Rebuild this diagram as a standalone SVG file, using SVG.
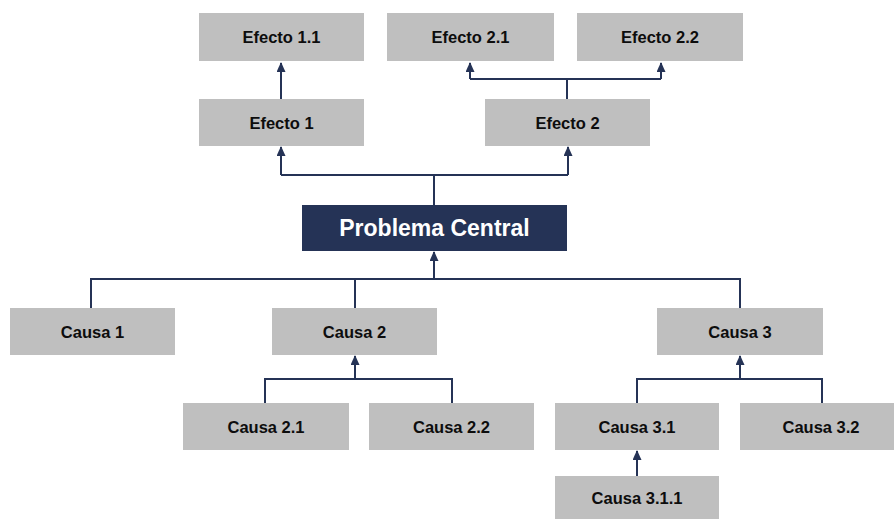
<svg xmlns="http://www.w3.org/2000/svg" width="894" height="519" viewBox="0 0 894 519">
<defs>
<style>
.box{fill:#bfbfbf;}
.main{fill:#253356;}
.t{font-family:"Liberation Sans",Arial,sans-serif;font-weight:bold;font-size:16.5px;fill:#0d0d0d;text-anchor:middle;dominant-baseline:central;}
.tm{font-family:"Liberation Sans",Arial,sans-serif;font-weight:bold;font-size:23px;fill:#fff;text-anchor:middle;dominant-baseline:central;}
.c{fill:none;stroke:#253356;stroke-width:2;}
</style>
<marker id="ah" viewBox="0 0 10 10" refX="9" refY="5" markerWidth="5" markerHeight="4.5" orient="auto" markerUnits="strokeWidth" preserveAspectRatio="none">
<path d="M0,0 L10,5 L0,10 z" fill="#253356"/>
</marker>
</defs>
<rect width="894" height="519" fill="#fff"/>
<g id="connectors">
<path class="c" d="M281,99 V63" marker-end="url(#ah)"/>
<path class="c" d="M567,99 V79 M470,79 H661"/>
<path class="c" d="M470,79 V63" marker-end="url(#ah)"/>
<path class="c" d="M661,79 V63" marker-end="url(#ah)"/>
<path class="c" d="M434,205 V175 M281,175 H568"/>
<path class="c" d="M281,175 V147" marker-end="url(#ah)"/>
<path class="c" d="M568,175 V147" marker-end="url(#ah)"/>
<path class="c" d="M91,309 V279 H740 V309 M355,279 V309"/>
<path class="c" d="M434,279 V252" marker-end="url(#ah)"/>
<path class="c" d="M265,403 V379 H452 V403"/>
<path class="c" d="M355,379 V356" marker-end="url(#ah)"/>
<path class="c" d="M637,403 V379 H822 V403"/>
<path class="c" d="M740,379 V356" marker-end="url(#ah)"/>
<path class="c" d="M637,476 V451" marker-end="url(#ah)"/>
</g>
<g id="efecto11"><rect class="box" x="199" y="13" width="165" height="48"/><text class="t" x="281.5" y="37">Efecto 1.1</text></g>
<g id="efecto21"><rect class="box" x="387" y="13" width="167" height="48"/><text class="t" x="470.5" y="37">Efecto 2.1</text></g>
<g id="efecto22"><rect class="box" x="577" y="13" width="166" height="48"/><text class="t" x="660" y="37">Efecto 2.2</text></g>
<g id="efecto1"><rect class="box" x="199" y="99" width="165" height="47"/><text class="t" x="281.5" y="123">Efecto 1</text></g>
<g id="efecto2"><rect class="box" x="485" y="99" width="165" height="47"/><text class="t" x="567.5" y="123">Efecto 2</text></g>
<g id="problema"><rect class="main" x="302" y="205" width="265" height="46"/><text class="tm" x="434.5" y="228">Problema Central</text></g>
<g id="causa1"><rect class="box" x="10" y="308" width="165" height="47"/><text class="t" x="92.5" y="332">Causa 1</text></g>
<g id="causa2"><rect class="box" x="272" y="308" width="165" height="47"/><text class="t" x="354.5" y="332">Causa 2</text></g>
<g id="causa3"><rect class="box" x="657" y="308" width="166" height="47"/><text class="t" x="740" y="332">Causa 3</text></g>
<g id="causa21"><rect class="box" x="183" y="403" width="166" height="47"/><text class="t" x="266" y="427">Causa 2.1</text></g>
<g id="causa22"><rect class="box" x="369" y="403" width="165" height="47"/><text class="t" x="451.5" y="427">Causa 2.2</text></g>
<g id="causa31"><rect class="box" x="555" y="403" width="164" height="47"/><text class="t" x="637" y="427">Causa 3.1</text></g>
<g id="causa32"><rect class="box" x="740" y="403" width="154" height="47"/><text class="t" x="821" y="427">Causa 3.2</text></g>
<g id="causa311"><rect class="box" x="555" y="476" width="164" height="43"/><text class="t" x="637" y="498">Causa 3.1.1</text></g>
</svg>
